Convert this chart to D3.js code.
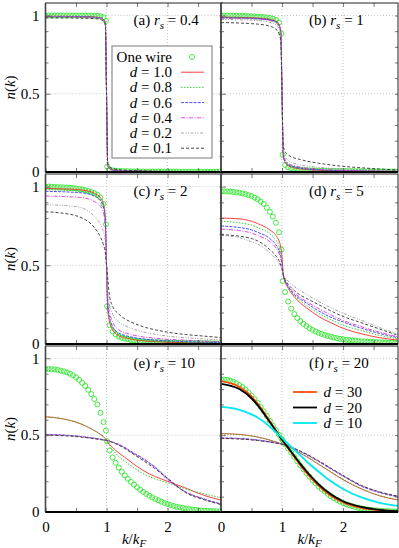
<!DOCTYPE html>
<html lang="en">
<head>
<meta charset="UTF-8">
<title>Momentum distribution n(k)</title>
<style>
  body { margin: 0; background: #fff; }
  svg { display: block; }
  text { white-space: pre; font-family: "Liberation Serif", "DejaVu Serif", serif; }
</style>
</head>
<body>
<div id="chart"></div>
<script src="https://d3js.org/d3.v7.min.js"></script>
<script>
// grid of k/kF used by the curves
const kLine = [0, 0.3, 0.5, 0.6, 0.8, 0.9, 0.95, 0.98, 1.0, 1.02, 1.05, 1.1, 1.2, 1.3, 1.4, 1.6, 1.8, 2.0, 2.3, 2.6, 2.9];
// grid of k/kF used by the "One wire" circles
const kDot = [0, 0.05, 0.1, 0.15, 0.2, 0.25, 0.3, 0.35, 0.4, 0.45, 0.5, 0.55, 0.6, 0.65, 0.7, 0.75, 0.8, 0.85, 0.9, 0.95,
  0.99, 1.01, 1.05, 1.1, 1.15, 1.2, 1.25, 1.3, 1.35, 1.4, 1.45, 1.5, 1.55, 1.6, 1.65, 1.7, 1.75, 1.8, 1.85, 1.9, 1.95,
  2.0, 2.05, 2.1, 2.15, 2.2, 2.25, 2.3, 2.35, 2.4, 2.45, 2.5, 2.55, 2.6, 2.65, 2.7, 2.75, 2.8, 2.85, 2.9];

const seriesNames = ["1.0", "0.8", "0.6", "0.4", "0.2", "0.1"];
const panelTags = ["a", "b", "c", "d", "e", "f"];
const rsValues = ["0.4", "1", "2", "5", "10", "20"];
const farNames = ["30", "20", "10"];
const yTickLabels = [0, 0.5, 1];
const xTickLabels = [0, 1, 2];

// one wire (circles)
const wireA = [1,1,1,1,1,1,1,1,1,1, 1,1,1,1,1,1,0.999,0.998,0.996,0.99, 0.965,0.035,
  0.015,0.01,0.008,0.007,0.006,0.005,0.005,0.004,0.004,0.004, 0.003,0.003,0.003,0.003,0.003,0.003,0.003,0.003,0.003,0.003,
  0.003,0.003,0.003,0.002,0.002,0.002,0.002,0.002,0.002,0.002, 0.002,0.002,0.002,0.002,0.002,0.002,0.002,0.002];
const wireB = [1,1,1,1,0.999,0.999,0.998,0.998,0.997,0.996, 0.995,0.994,0.993,0.992,0.99,0.988,0.985,0.98,0.972,0.955, 0.885,0.11,
  0.045,0.03,0.024,0.02,0.017,0.015,0.013,0.012,0.011,0.01, 0.009,0.009,0.008,0.008,0.007,0.007,0.007,0.006,0.006,0.006,
  0.006,0.005,0.005,0.005,0.005,0.005,0.004,0.004,0.004,0.004, 0.004,0.004,0.004,0.003,0.003,0.003,0.003,0.003];
const wireC = [1,1,0.999,0.998,0.997,0.996,0.995,0.994,0.992,0.99, 0.988,0.985,0.982,0.977,0.972,0.966,0.958,0.948,0.93,0.89, 0.76,0.24,
  0.12,0.08,0.06,0.047,0.04,0.034,0.03,0.026,0.023,0.02, 0.018,0.016,0.015,0.014,0.013,0.012,0.011,0.01,0.01,0.009,
  0.009,0.008,0.008,0.007,0.007,0.007,0.006,0.006,0.006,0.005, 0.005,0.005,0.005,0.004,0.004,0.004,0.004,0.004];
const wireD = [0.97,0.97,0.969,0.968,0.966,0.964,0.961,0.957,0.952,0.946, 0.94,0.93,0.92,0.905,0.89,0.866,0.84,0.81,0.77,0.71, 0.6,0.4,
  0.33,0.27,0.225,0.19,0.165,0.145,0.128,0.114,0.1,0.09, 0.08,0.071,0.064,0.057,0.051,0.046,0.041,0.037,0.033,0.03,
  0.027,0.025,0.023,0.021,0.019,0.017,0.016,0.015,0.014,0.013, 0.012,0.011,0.01,0.01,0.009,0.009,0.008,0.008];
const wireE = [0.93,0.93,0.929,0.927,0.924,0.92,0.915,0.908,0.9,0.889, 0.876,0.86,0.84,0.82,0.795,0.767,0.735,0.7,0.645,0.585, 0.53,0.46,
  0.4,0.355,0.32,0.29,0.262,0.238,0.216,0.196,0.178,0.161, 0.145,0.131,0.118,0.106,0.095,0.085,0.076,0.067,0.059,0.052,
  0.045,0.039,0.034,0.03,0.026,0.022,0.019,0.016,0.014,0.012, 0.01,0.009,0.008,0.007,0.006,0.005,0.004,0.004];
const wireF = [0.863,0.862,0.86,0.855,0.848,0.838,0.826,0.812,0.797,0.778, 0.757,0.734,0.71,0.683,0.655,0.625,0.593,0.562,0.532,0.502, 0.478,0.466,
  0.442,0.414,0.386,0.358,0.33,0.303,0.278,0.253,0.23,0.208, 0.187,0.167,0.149,0.133,0.118,0.103,0.09,0.079,0.068,0.059,
  0.051,0.044,0.038,0.032,0.027,0.023,0.02,0.017,0.014,0.012, 0.01,0.009,0.007,0.006,0.005,0.004,0.004,0.003];

// double wire, d = 1.0, 0.8, 0.6, 0.4, 0.2, 0.1 (on kLine)
const linesA = [
  [0.995,0.995,0.994,0.993,0.99,0.985,0.975,0.955,0.5,0.04,0.022,0.013,0.008,0.006,0.005,0.004,0.003,0.002,0.002,0.001,0.001],
  [0.995,0.995,0.994,0.993,0.99,0.985,0.974,0.954,0.5,0.041,0.023,0.013,0.008,0.006,0.005,0.004,0.003,0.002,0.002,0.001,0.001],
  [0.994,0.994,0.993,0.992,0.989,0.984,0.973,0.952,0.5,0.043,0.024,0.014,0.009,0.007,0.005,0.004,0.003,0.003,0.002,0.002,0.001],
  [0.993,0.993,0.992,0.991,0.988,0.983,0.972,0.95,0.5,0.045,0.025,0.015,0.01,0.007,0.006,0.005,0.004,0.003,0.002,0.002,0.001],
  [0.99,0.99,0.989,0.988,0.985,0.98,0.968,0.945,0.5,0.05,0.03,0.018,0.012,0.009,0.007,0.005,0.004,0.003,0.003,0.002,0.002],
  [0.985,0.985,0.984,0.983,0.98,0.975,0.963,0.94,0.5,0.055,0.035,0.022,0.015,0.011,0.009,0.007,0.005,0.004,0.003,0.003,0.002]
];
const linesB = [
  [0.99,0.988,0.986,0.984,0.976,0.965,0.945,0.9,0.5,0.1,0.06,0.04,0.026,0.02,0.016,0.011,0.008,0.006,0.005,0.004,0.003],
  [0.988,0.986,0.984,0.982,0.974,0.962,0.942,0.895,0.5,0.105,0.065,0.044,0.029,0.022,0.018,0.013,0.009,0.007,0.006,0.004,0.003],
  [0.986,0.984,0.982,0.98,0.972,0.96,0.938,0.89,0.5,0.11,0.07,0.048,0.032,0.025,0.02,0.014,0.011,0.008,0.006,0.005,0.004],
  [0.983,0.981,0.979,0.977,0.968,0.955,0.932,0.88,0.5,0.12,0.08,0.056,0.04,0.031,0.025,0.018,0.014,0.011,0.008,0.006,0.005],
  [0.975,0.973,0.97,0.968,0.957,0.94,0.915,0.86,0.5,0.14,0.1,0.075,0.056,0.046,0.039,0.03,0.024,0.02,0.015,0.012,0.01],
  [0.955,0.952,0.948,0.945,0.932,0.912,0.885,0.83,0.5,0.17,0.13,0.11,0.09,0.08,0.07,0.056,0.045,0.036,0.027,0.019,0.013]
];
const linesC = [
  [0.988,0.985,0.982,0.978,0.958,0.93,0.89,0.8,0.5,0.22,0.14,0.09,0.052,0.04,0.031,0.02,0.015,0.011,0.008,0.006,0.005],
  [0.98,0.977,0.974,0.97,0.95,0.922,0.882,0.79,0.5,0.23,0.15,0.1,0.06,0.046,0.036,0.024,0.018,0.014,0.01,0.008,0.007],
  [0.97,0.967,0.963,0.96,0.94,0.912,0.87,0.775,0.5,0.24,0.17,0.11,0.07,0.055,0.045,0.032,0.025,0.02,0.015,0.012,0.01],
  [0.94,0.937,0.933,0.93,0.905,0.875,0.835,0.74,0.5,0.27,0.2,0.14,0.09,0.072,0.06,0.045,0.037,0.03,0.024,0.019,0.015],
  [0.885,0.88,0.873,0.865,0.81,0.76,0.71,0.65,0.5,0.33,0.25,0.19,0.14,0.117,0.1,0.077,0.062,0.05,0.04,0.032,0.025],
  [0.84,0.83,0.815,0.8,0.74,0.68,0.63,0.58,0.5,0.42,0.3,0.24,0.19,0.16,0.14,0.11,0.09,0.075,0.06,0.05,0.04]
];
const linesD = [
  [0.8,0.795,0.78,0.765,0.725,0.69,0.655,0.615,0.55,0.44,0.395,0.355,0.3,0.26,0.23,0.175,0.135,0.1,0.065,0.04,0.025],
  [0.78,0.77,0.755,0.74,0.7,0.66,0.625,0.585,0.53,0.44,0.4,0.36,0.31,0.275,0.245,0.195,0.155,0.12,0.085,0.055,0.033],
  [0.75,0.74,0.725,0.71,0.67,0.63,0.595,0.555,0.51,0.44,0.4,0.365,0.315,0.285,0.26,0.21,0.17,0.14,0.1,0.067,0.04],
  [0.73,0.72,0.705,0.69,0.65,0.61,0.575,0.54,0.5,0.44,0.4,0.37,0.325,0.295,0.27,0.225,0.185,0.15,0.11,0.075,0.045],
  [0.69,0.675,0.65,0.635,0.58,0.54,0.515,0.49,0.47,0.445,0.42,0.4,0.365,0.34,0.315,0.27,0.23,0.195,0.15,0.105,0.062],
  [0.695,0.685,0.67,0.655,0.6,0.56,0.53,0.5,0.475,0.44,0.41,0.38,0.34,0.31,0.29,0.25,0.21,0.175,0.135,0.095,0.055]
];
const linesE = [
  [0.62,0.605,0.585,0.57,0.53,0.505,0.49,0.478,0.466,0.455,0.44,0.42,0.385,0.355,0.325,0.27,0.23,0.2,0.155,0.108,0.075],
  [0.62,0.605,0.585,0.57,0.53,0.505,0.49,0.478,0.466,0.45,0.43,0.405,0.36,0.33,0.3,0.25,0.215,0.19,0.15,0.118,0.09],
  [0.505,0.5,0.495,0.49,0.48,0.474,0.47,0.468,0.466,0.464,0.461,0.455,0.44,0.42,0.395,0.345,0.29,0.215,0.13,0.085,0.05],
  [0.505,0.5,0.494,0.49,0.479,0.473,0.47,0.467,0.466,0.464,0.46,0.454,0.438,0.418,0.39,0.35,0.285,0.21,0.13,0.083,0.048],
  [0.503,0.498,0.493,0.488,0.478,0.472,0.469,0.467,0.466,0.464,0.46,0.453,0.437,0.415,0.39,0.34,0.295,0.22,0.128,0.082,0.047],
  [0.5,0.496,0.491,0.487,0.477,0.471,0.468,0.467,0.466,0.464,0.46,0.452,0.435,0.413,0.387,0.335,0.28,0.22,0.125,0.08,0.046]
];
const linesF = [
  [0.51,0.505,0.495,0.488,0.468,0.456,0.449,0.445,0.442,0.439,0.434,0.426,0.405,0.382,0.36,0.31,0.26,0.21,0.15,0.105,0.078],
  [0.508,0.503,0.494,0.487,0.467,0.455,0.449,0.445,0.442,0.439,0.434,0.426,0.406,0.384,0.362,0.312,0.262,0.213,0.152,0.107,0.08],
  [0.482,0.479,0.473,0.469,0.457,0.45,0.446,0.443,0.441,0.439,0.435,0.429,0.412,0.393,0.373,0.328,0.28,0.233,0.168,0.126,0.098],
  [0.48,0.477,0.471,0.467,0.456,0.449,0.445,0.443,0.441,0.439,0.435,0.429,0.413,0.394,0.374,0.33,0.282,0.235,0.17,0.128,0.1],
  [0.479,0.476,0.47,0.466,0.456,0.449,0.445,0.443,0.441,0.439,0.435,0.43,0.414,0.395,0.376,0.332,0.284,0.237,0.172,0.13,0.102],
  [0.478,0.475,0.469,0.465,0.455,0.448,0.445,0.443,0.441,0.439,0.435,0.43,0.414,0.396,0.377,0.333,0.285,0.238,0.173,0.131,0.103]
];
// panel (f): d = 30, 20, 10
const farLines = [
  [0.852,0.815,0.752,0.705,0.59,0.53,0.5,0.482,0.47,0.459,0.442,0.415,0.36,0.305,0.255,0.17,0.105,0.062,0.027,0.011,0.004],
  [0.834,0.8,0.74,0.695,0.585,0.528,0.499,0.482,0.47,0.46,0.444,0.418,0.365,0.313,0.265,0.18,0.115,0.07,0.033,0.014,0.006],
  [0.684,0.665,0.635,0.615,0.555,0.52,0.502,0.49,0.482,0.474,0.462,0.443,0.405,0.368,0.33,0.262,0.2,0.15,0.095,0.06,0.04]
];

const wires = [wireA, wireB, wireC, wireD, wireE, wireF];
const lineSets = [linesA, linesB, linesC, linesD, linesE, linesF];

const styles = [
  { color: "#ff2a2a", dash: null },
  { color: "#22c822", dash: "1.5,1.5" },
  { color: "#3a3aff", dash: "3,1.2" },
  { color: "#e030e0", dash: "4,1.5,1,1.5" },
  { color: "#9a9a9a", dash: "3,1.5,1,1.5,1,1.5" },
  { color: "#333333", dash: "3,2" }
];
const farColors = ["#ff4a10", "#000000", "#00e8f0"];
const wireColor = "#2ee82e";

const width = 399, height = 548;
const colX = [45.5, 221];
const rowTop = [3, 174, 346];
const rowBottom = [172, 344, 512];
const panelW = 177;
const fs = 15;

const svg = d3.select("#chart").append("svg")
  .attr("width", width)
  .attr("height", height);

panelTags.forEach((tag, i) => {
  const col = i % 2, row = Math.floor(i / 2);
  const h = rowBottom[row] - rowTop[row];
  const x = d3.scaleLinear().domain([0, 2.9]).range([0, panelW]);
  const y = d3.scaleLinear().domain([0, 1.08]).range([h, 0]);

  const g = svg.append("g").attr("transform", `translate(${colX[col]},${rowTop[row]})`);

  g.append("clipPath").attr("id", "clip-" + tag)
    .append("rect").attr("width", panelW).attr("height", h);

  g.append("rect").attr("width", panelW).attr("height", h).attr("fill", "#fff");

  // dotted grid
  const grid = g.append("g").attr("stroke", "#b8b8b8").attr("stroke-width", 0.8).attr("stroke-dasharray", "1,2");
  grid.selectAll(".gy").data([0.5, 1]).join("line")
    .attr("x1", 0).attr("x2", panelW).attr("y1", d => y(d)).attr("y2", d => y(d));
  grid.selectAll(".gx").data([1, 2]).join("line")
    .attr("y1", 0).attr("y2", h).attr("x1", d => x(d)).attr("x2", d => x(d));

  const plot = g.append("g").attr("clip-path", `url(#clip-${tag})`);

  // one wire circles
  plot.append("g").selectAll("circle")
    .data(wires[i])
    .join("circle")
    .attr("cx", (d, j) => x(kDot[j]))
    .attr("cy", d => y(d))
    .attr("r", 2.5)
    .attr("fill", "none")
    .attr("stroke", wireColor)
    .attr("stroke-width", 0.9);

  const line = d3.line()
    .x((d, j) => x(kLine[j]))
    .y(d => y(d))
    .curve(d3.curveMonotoneX);

  lineSets[i].forEach((vals, s) => {
    plot.append("path")
      .attr("d", line(vals))
      .attr("fill", "none")
      .attr("stroke", styles[s].color)
      .attr("stroke-width", 0.9)
      .attr("stroke-dasharray", styles[s].dash);
  });

  if (tag === "f") {
    farLines.forEach((vals, s) => {
      plot.append("path")
        .attr("d", line(vals))
        .attr("fill", "none")
        .attr("stroke", farColors[s])
        .attr("stroke-width", 1.8);
    });
  }

  // ticks (inward)
  const minorY = [0.1, 0.2, 0.3, 0.4, 0.6, 0.7, 0.8, 0.9];
  g.append("g").call(d3.axisLeft(y).tickValues(yTickLabels).tickSize(-5).tickPadding(6)
    .tickFormat(col === 0 ? d3.format("~g") : () => ""));
  g.append("g").call(d3.axisLeft(y).tickValues(minorY).tickSize(-3).tickFormat(""));
  g.append("g").attr("transform", `translate(${panelW},0)`)
    .call(d3.axisRight(y).tickValues(yTickLabels.concat(minorY)).tickSize(-3).tickFormat(""));
  g.append("g").attr("transform", `translate(0,${h})`)
    .call(d3.axisBottom(x).tickValues(xTickLabels).tickSize(-4).tickPadding(9)
      .tickFormat(row === 2 ? d3.format("~g") : () => ""));
  g.append("g").attr("transform", `translate(0,${h})`)
    .call(d3.axisBottom(x).tickValues([0.5, 1.5, 2.5]).tickSize(-4).tickFormat(""));
  g.append("g").call(d3.axisTop(x).tickValues([0.5, 1, 1.5, 2, 2.5]).tickSize(-4).tickFormat(""));

  g.selectAll(".domain").remove();
  g.selectAll(".tick line").attr("stroke", "#555").attr("stroke-width", 0.8);
  g.selectAll(".tick text").attr("font-size", fs).attr("fill", "#000");

  // frame
  g.append("rect").attr("width", panelW).attr("height", h)
    .attr("fill", "none").attr("stroke", "#222").attr("stroke-width", 1);
  g.append("line").attr("x1", 0).attr("x2", 0).attr("y1", 0).attr("y2", h)
    .attr("stroke", "#444").attr("stroke-width", 1.6);
  g.append("line").attr("x1", 0).attr("x2", panelW).attr("y1", h).attr("y2", h)
    .attr("stroke", "#000").attr("stroke-width", 2);

  // panel label
  const lab = g.append("text").attr("x", 88).attr("y", 22).attr("font-size", fs);
  lab.append("tspan").text(`(${tag}) `);
  lab.append("tspan").attr("font-style", "italic").text("r");
  lab.append("tspan").attr("font-style", "italic").attr("font-size", 11).attr("dy", 4).text("s");
  lab.append("tspan").attr("dy", -4).text(" = " + rsValues[i]);

  // y label
  if (col === 0) {
    const yl = svg.append("text")
      .attr("transform", `translate(15,${(rowTop[row] + rowBottom[row]) / 2}) rotate(-90)`)
      .attr("text-anchor", "middle").attr("font-size", fs);
    yl.append("tspan").attr("font-style", "italic").text("n");
    yl.append("tspan").text("(");
    yl.append("tspan").attr("font-style", "italic").text("k");
    yl.append("tspan").text(")");
  }

  // x label
  if (row === 2) {
    const xl = g.append("text").attr("x", panelW / 2).attr("y", h + 32)
      .attr("text-anchor", "middle").attr("font-size", fs);
    xl.append("tspan").attr("font-style", "italic").text("k");
    xl.append("tspan").text("/");
    xl.append("tspan").attr("font-style", "italic").text("k");
    xl.append("tspan").attr("font-style", "italic").attr("font-size", 11).attr("dy", 3).text("F");
  }
});

// legend of panel (a)
const leg = svg.append("g");
leg.append("rect").attr("x", 112).attr("y", 46).attr("width", 100).attr("height", 112)
  .attr("fill", "#fff").attr("stroke", "#777").attr("stroke-width", 1);
const legRows = ["One wire"].concat(seriesNames);
legRows.forEach((name, r) => {
  const cy = 57 + r * 15.2;
  const t = leg.append("text").attr("x", 172).attr("y", cy + 5)
    .attr("text-anchor", "end").attr("font-size", fs);
  if (r === 0) {
    t.text(name);
    leg.append("circle").attr("cx", 192).attr("cy", cy).attr("r", 2.5)
      .attr("fill", "none").attr("stroke", wireColor).attr("stroke-width", 0.9);
  } else {
    t.append("tspan").attr("font-style", "italic").text("d");
    t.append("tspan").text(" = " + name);
    const st = styles[r - 1];
    leg.append("line").attr("x1", 181).attr("x2", 204).attr("y1", cy).attr("y2", cy)
      .attr("stroke", st.color).attr("stroke-width", 0.9).attr("stroke-dasharray", st.dash);
  }
});

// legend of panel (f)
const legF = svg.append("g");
farNames.forEach((name, r) => {
  const cy = 392 + r * 15.5;
  const t = legF.append("text").attr("x", 362).attr("y", cy + 5)
    .attr("text-anchor", "end").attr("font-size", fs);
  t.append("tspan").attr("font-style", "italic").text("d");
  t.append("tspan").text(" = " + name);
  legF.append("line").attr("x1", 293).attr("x2", 317).attr("y1", cy).attr("y2", cy)
    .attr("stroke", farColors[r]).attr("stroke-width", 1.8);
});
</script>
</body>
</html>
